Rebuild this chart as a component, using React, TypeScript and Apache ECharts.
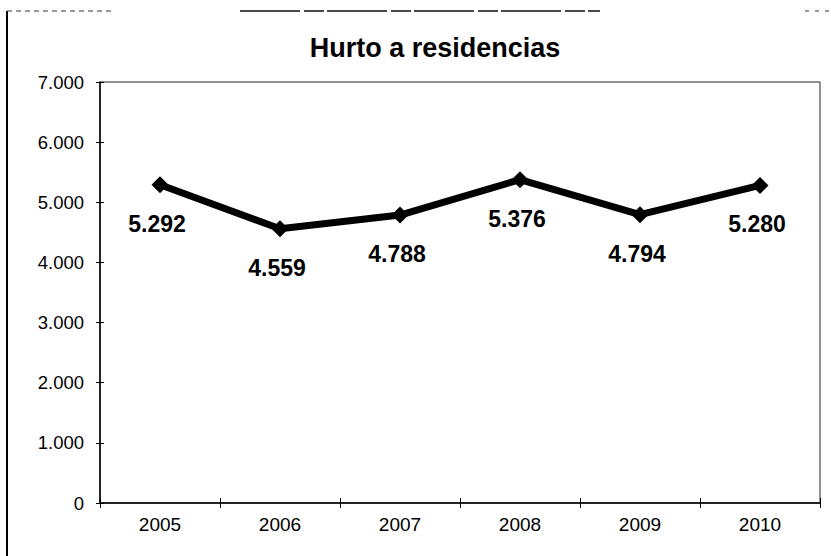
import React, { useEffect, useRef } from "react";
import * as echarts from "echarts";

const years = ["2005", "2006", "2007", "2008", "2009", "2010"];
const hurtoValues = [5292, 4559, 4788, 5376, 4794, 5280];
const yTicks = [0, 1000, 2000, 3000, 4000, 5000, 6000, 7000];
const chartTitle = "Hurto a residencias";

const fmt = (v: number) => {
  const s = Math.round(v).toString();
  return s.replace(/\B(?=(\d{3})+(?!\d))/g, ".");
};

export default function App() {
  const ref = useRef<HTMLDivElement>(null);
  useEffect(() => {
    if (!ref.current) return;
    const chart = echarts.init(ref.current, undefined, { renderer: "svg" });
    const yMax = yTicks[yTicks.length - 1];
    const yInt = yTicks[1] - yTicks[0];
    const baseY = {
      type: "value" as const,
      min: yTicks[0],
      max: yMax,
      interval: yInt,
      splitLine: { show: false },
    };
    const ff = "Liberation Sans, Arial, sans-serif";
    chart.setOption({
      animation: false,
      backgroundColor: "#ffffff",
      textStyle: { fontFamily: ff, color: "#000" },
      grid: {
        left: 100,
        right: 11,
        top: 82,
        bottom: 53,
        show: true,
        borderColor: "#222",
        borderWidth: 1,
        backgroundColor: "transparent",
      },
      graphic: [
        {
          type: "text",
          x: 435,
          y: 48,
          style: {
            text: chartTitle,
            fontFamily: ff,
            fontSize: 27,
            fontWeight: "bold",
            fill: "#000",
            align: "center",
            verticalAlign: "middle",
          },
        },
        {
          type: "line",
          shape: { x1: 7, y1: 11, x2: 7, y2: 556 },
          style: { stroke: "#000", lineWidth: 2 },
        },
        {
          type: "line",
          shape: { x1: 7, y1: 11, x2: 115, y2: 11 },
          style: { stroke: "#333", lineWidth: 1, lineDash: [5, 4] },
        },
        {
          type: "line",
          shape: { x1: 240, y1: 11, x2: 600, y2: 11 },
          style: { stroke: "#111", lineWidth: 1.5, lineDash: [60, 4, 20, 3] },
        },
        {
          type: "line",
          shape: { x1: 805, y1: 11, x2: 831, y2: 11 },
          style: { stroke: "#333", lineWidth: 1, lineDash: [4, 6] },
        },
      ],
      xAxis: [
        {
          type: "category",
          data: years,
          boundaryGap: true,
          axisLine: { show: true, lineStyle: { color: "#000", width: 1.5 } },
          axisTick: { show: true, length: 5, lineStyle: { color: "#000", width: 1 } },
          axisLabel: { fontSize: 19, color: "#000", margin: 12, fontFamily: ff },
          splitLine: { show: false },
        },
        {
          type: "category",
          data: years,
          boundaryGap: true,
          position: "bottom",
          axisLine: { show: false },
          axisTick: { show: true, inside: true, length: 5, lineStyle: { color: "#000", width: 1 } },
          axisLabel: { show: false },
          splitLine: { show: false },
        },
      ],
      yAxis: [
        {
          ...baseY,
          axisLine: { show: true, lineStyle: { color: "#000", width: 1.5 } },
          axisTick: { show: true, length: 4, lineStyle: { color: "#000", width: 1 } },
          axisLabel: {
            fontSize: 18.5,
            color: "#000",
            margin: 16,
            fontFamily: ff,
            formatter: (v: number) => fmt(v),
          },
        },
        {
          ...baseY,
          position: "left",
          axisLine: { show: false },
          axisTick: { show: true, inside: true, length: 4, lineStyle: { color: "#000", width: 1 } },
          axisLabel: { show: false },
        },
      ],
      series: [
        {
          type: "line",
          data: hurtoValues,
          xAxisIndex: 0,
          yAxisIndex: 0,
          color: "#000",
          lineStyle: { color: "#000", width: 7 },
          symbol: "diamond",
          symbolSize: 17,
          itemStyle: { color: "#000" },
          label: {
            show: true,
            position: "bottom",
            distance: 19,
            offset: [-3, 0],
            fontSize: 23,
            fontWeight: "bold",
            color: "#000",
            fontFamily: ff,
            formatter: (p: any) => fmt(p.value),
          },
        },
      ],
    });
    return () => chart.dispose();
  }, []);
  return (
    <div
      ref={ref}
      style={{ position: "absolute", left: 0, top: 0, width: 831, height: 556 }}
    />
  );
}
